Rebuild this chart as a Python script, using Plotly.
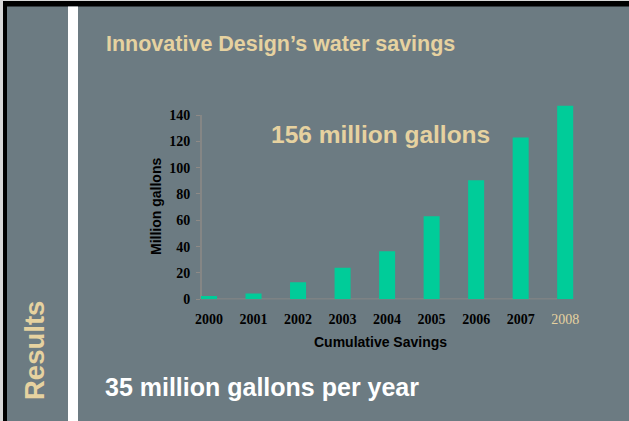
import plotly.graph_objects as go

# ---- data ----
years = ["2000", "2001", "2002", "2003", "2004", "2005", "2006", "2007", "2008"]
savings = [2.5, 4.5, 13, 24, 36.5, 63, 90.5, 123, 147]
y_ticks = [0, 20, 40, 60, 80, 100, 120, 140]
title_text = "Innovative Design\u2019s water savings"
callout_text = "156 million gallons"
footer_text = "35 million gallons per year"
side_text = "Results"
y_title = "Million gallons"
x_title = "Cumulative Savings"

# ---- styles ----
W, H = 629, 421
SLATE = "#6C7B82"
BEIGE = "#E6D2A0"
GREEN = "#00CC99"
AXIS = "#8E8A86"
SANS = "Liberation Sans, Arial, sans-serif"
SERIF = "Liberation Serif, Times New Roman, serif"

Y0_PX = 299.3          # pixel row of value 0
PX_PER_UNIT = 1.3164   # pixels per million gallons
Y_MAX = 150


def px(x):
    return x / W


def py(y):
    return (H - y) / H


x_ticktext = [f"<b>{y}</b>" for y in years[:-1]] + [
    f"<span style='color:{BEIGE}'>{years[-1]}</span>"
]
y_ticktext = [f"<b>{v}</b>" for v in y_ticks]

fig = go.Figure(
    go.Bar(
        x=years,
        y=savings,
        marker=dict(color=GREEN, line=dict(width=0)),
        width=0.36,
        hoverinfo="skip",
    )
)

fig.update_layout(
    width=W,
    height=H,
    margin=dict(l=0, r=0, t=0, b=0, pad=0, autoexpand=False),
    paper_bgcolor=SLATE,
    plot_bgcolor="rgba(0,0,0,0)",
    showlegend=False,
    xaxis=dict(
        type="category",
        domain=[px(201), px(583)],
        range=[-0.18, 8.4],
        showline=False,
        showgrid=False,
        zeroline=False,
        ticks="",
        tickvals=years,
        ticktext=x_ticktext,
        tickfont=dict(family=SERIF, size=14, color="black"),
        ticklabelstandoff=10,
        automargin=False,
        fixedrange=True,
    ),
    yaxis=dict(
        domain=[py(Y0_PX), py(Y0_PX - Y_MAX * PX_PER_UNIT)],
        range=[0, Y_MAX],
        tickvals=y_ticks,
        ticktext=y_ticktext,
        showline=False,
        ticks="outside",
        ticklen=4,
        tickcolor=AXIS,
        tickwidth=1,
        showgrid=False,
        zeroline=False,
        tickfont=dict(family=SERIF, size=14, color="black"),
        ticklabelstandoff=3,
        automargin=False,
        fixedrange=True,
    ),
)

shapes = [
    # left border
    dict(type="rect", xref="paper", yref="paper", x0=0, x1=px(3), y0=0, y1=1,
         fillcolor="#D8D8D8", line=dict(width=0), layer="below"),
    dict(type="rect", xref="paper", yref="paper", x0=px(3), x1=px(7), y0=0, y1=py(1),
         fillcolor="black", line=dict(width=0), layer="below"),
    # top border
    dict(type="rect", xref="paper", yref="paper", x0=0, x1=1, y0=py(1), y1=1,
         fillcolor="#D8D8D8", line=dict(width=0), layer="below"),
    dict(type="rect", xref="paper", yref="paper", x0=px(3), x1=1, y0=py(6.5), y1=py(1),
         fillcolor="black", line=dict(width=0), layer="below"),
    # white stripe
    dict(type="rect", xref="paper", yref="paper", x0=px(68), x1=px(78), y0=0, y1=py(6.5),
         fillcolor="white", line=dict(width=0), layer="below"),
    # x axis baseline
    dict(type="line", xref="x", yref="y", x0=-0.27, x1=7.82, y0=0, y1=0,
         line=dict(color=AXIS, width=1.5), layer="below"),
    # y axis line (0 to 140)
    dict(type="line", xref="x domain", yref="y", x0=0, x1=0, y0=0, y1=y_ticks[-1],
         line=dict(color=AXIS, width=1.5), layer="below"),
]
fig.update_layout(shapes=shapes)

annotations = [
    dict(text=f"<b>{title_text}</b>", x=px(104), y=py(44), xanchor="left", yanchor="middle",
         font=dict(family=SANS, size=21.5, color=BEIGE)),
    dict(text=f"<b>{callout_text}</b>", x=px(269), y=py(135), xanchor="left", yanchor="middle",
         font=dict(family=SANS, size=24.5, color=BEIGE)),
    dict(text=f"<b>{footer_text}</b>", x=px(103), y=py(387), xanchor="left", yanchor="middle",
         font=dict(family=SANS, size=25, color="white")),
    dict(text=f"<b>{side_text}</b>", x=px(34), y=py(351), xanchor="center", yanchor="middle",
         textangle=-90, font=dict(family=SANS, size=27.5, color=BEIGE)),
    dict(text=f"<b>{y_title}</b>", x=px(156), y=py(207), xanchor="center", yanchor="middle",
         textangle=-90, font=dict(family=SANS, size=14, color="black")),
    dict(text=f"<b>{x_title}</b>", x=px(380), y=py(342), xanchor="center", yanchor="middle",
         font=dict(family=SANS, size=14, color="black")),
]
for a in annotations:
    a.update(xref="paper", yref="paper", showarrow=False)
fig.update_layout(annotations=annotations)

POST = (
    "document.documentElement.style.overflow='hidden';"
    "document.body.style.margin='0';"
    "document.body.style.overflow='hidden';"
    "var d=document.getElementById('{plot_id}');"
    "d.style.position='fixed';d.style.left='0px';d.style.top='0px';"
)

fig.write_html(
    "out.html",
    config={"displayModeBar": False, "staticPlot": True},
    post_script=POST,
)
